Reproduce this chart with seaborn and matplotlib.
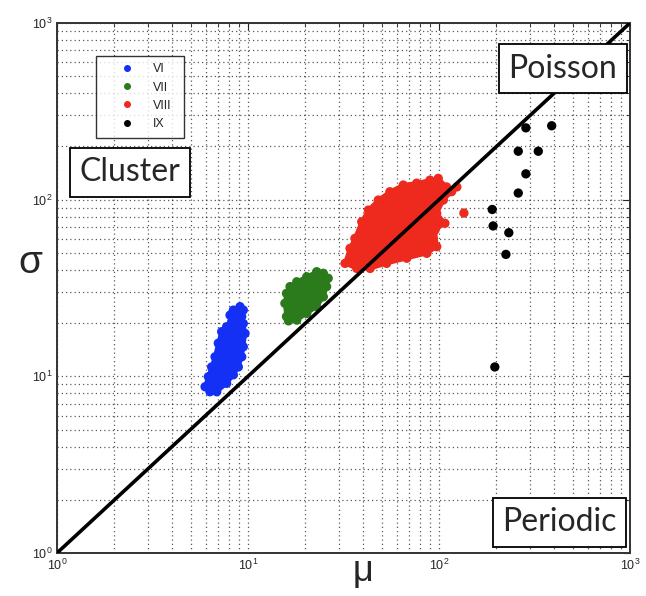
import numpy as np
import pandas as pd
import seaborn as sns
import matplotlib.pyplot as plt

# 데이터: 각 그룹의 (mu, sigma) - 구름 모양은 외곽선 점으로 읽음
vi_mu = [5.96, 6.20, 6.45, 6.72, 6.99, 7.28, 7.73, 8.22, 8.05, 8.38, 9.08, 9.45, 9.27,
         9.45, 9.65, 9.45, 9.27, 8.90, 8.38, 7.73, 6.86, 6.32]
vi_sigma = [8.73, 9.95, 11.3, 12.9, 15.4, 17.9, 19.1, 20.4, 22.2, 23.7, 24.8, 23.7, 21.8,
            19.9, 17.5, 14.7, 12.9, 11.3, 10.2, 9.13, 8.18, 8.18]

vii_mu = [15.9, 15.6, 15.9, 16.6, 18.0, 20.3, 22.9, 24.8, 26.3, 25.8, 24.8, 22.9, 20.3,
          18.0, 16.3]
vii_sigma = [21.8, 25.9, 29.5, 32.2, 34.3, 36.6, 39.1, 38.3, 35.9, 32.2, 28.2, 24.8, 22.7,
             20.8, 20.6]

viii_mu = [32.2, 34.2, 36.3, 39.4, 42.7, 48.1, 55.3, 65.0, 76.4, 89.7, 99.1, 109.6, 116.4,
           105.4, 97.3, 107.4, 95.3, 97.3, 86.3, 67.8, 53.2, 43.6, 37.1]
viii_sigma = [43.6, 53.0, 60.4, 75.0, 87.3, 99.5, 110.9, 121, 124, 129, 132, 118, 111,
              99.5, 83.6, 73.5, 67.3, 54.2, 49.7, 46.6, 43.6, 40.8, 40.8]
viii_extra_mu = [124, 135]
viii_extra_sigma = [118, 84]

ix_mu = [285, 389, 260, 331, 285, 260, 190, 192, 232, 224, 196]
ix_sigma = [255, 262, 188, 188, 140, 109, 88, 71, 65, 49, 11.3]

groups = ['VI', 'VII', 'VIII', 'IX']
colors = ['#1430f5', '#2b7a1c', '#ee2a1e', 'black']

df = pd.concat([
    pd.DataFrame({'mu': vi_mu, 'sigma': vi_sigma, 'group': 'VI'}),
    pd.DataFrame({'mu': vii_mu, 'sigma': vii_sigma, 'group': 'VII'}),
    pd.DataFrame({'mu': viii_mu + viii_extra_mu, 'sigma': viii_sigma + viii_extra_sigma, 'group': 'VIII'}),
    pd.DataFrame({'mu': ix_mu, 'sigma': ix_sigma, 'group': 'IX'}),
], ignore_index=True)

sns.set_style('white')
plt.rcParams['font.family'] = ['Liberation Sans', 'DejaVu Sans']

fig = plt.figure(figsize=(6.46, 5.96), dpi=100)
ax = fig.add_axes([57 / 646, 43 / 596, 573 / 646, 530 / 596])
ax.set_xscale('log')
ax.set_yscale('log')

# 구름 내부 채우기
for mu, sg, c in [(vi_mu, vi_sigma, colors[0]), (vii_mu, vii_sigma, colors[1]),
                  (viii_mu, viii_sigma, colors[2])]:
    ax.fill(mu, sg, color=c, lw=3, joinstyle='round', zorder=2)

sns.scatterplot(data=df, x='mu', y='sigma', hue='group', hue_order=groups,
                palette=colors, s=45, linewidth=0, ax=ax, zorder=2)

# Poisson 기준선 sigma = mu
ax.plot([1, 1000], [1, 1000], color='black', lw=2.6, zorder=3, solid_capstyle='butt')

ax.set_xlim(1, 1000)
ax.set_ylim(1, 1000)
ax.grid(True, which='both', linestyle=(0, (1, 2.4)), color='black', lw=0.9, alpha=0.65)
ax.tick_params(which='both', direction='in', top=True, right=True, labelsize=9)
ax.tick_params(which='major', length=5)
ax.tick_params(which='minor', length=3)
for s in ax.spines.values():
    s.set_color('#333333')
    s.set_linewidth(1.4)
ax.set_xlabel('')
ax.set_ylabel('')

fig.text(363 / 646, 1 - 571 / 596, 'μ', ha='center', va='center', fontsize=26)
fig.text(30 / 646, 1 - 263 / 596, 'σ', ha='center', va='center', fontsize=28)

box = dict(boxstyle='square,pad=0.3', fc='white', ec='black', lw=1.3)
for txt, x, y in [('Cluster', 0.128, 0.718), ('Poisson', 0.883, 0.914), ('Periodic', 0.877, 0.058)]:
    ax.text(x, y, txt, transform=ax.transAxes, ha='center', va='center',
            fontsize=23, family='Lato', bbox=box, zorder=5)

sns.move_legend(ax, 'upper left', bbox_to_anchor=(0.0675, 0.791, 0.154, 0.147),
                mode='expand', borderaxespad=0,
                title=None, frameon=True, fancybox=False, fontsize=9, markerscale=0.75,
                labelspacing=0.5, handlelength=3.8, handletextpad=0.15, borderpad=0.6,
                edgecolor='black')
leg = ax.get_legend()
leg.get_frame().set_linewidth(1.0)
leg.set_zorder(6)

fig.savefig('out.png', dpi=100)
